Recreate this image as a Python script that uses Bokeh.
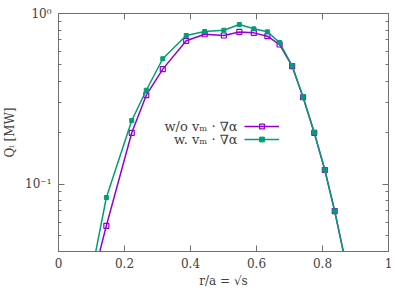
from bokeh.plotting import figure
from bokeh.models import (LinearAxis, LogAxis, FixedTicker, Range1d, Legend, LegendItem, Label,
                          CustomLabelingPolicy)
from bokeh.embed import file_html
from bokeh.resources import INLINE

# data (r/a = sqrt(s))
r_wo = [0.100, 0.145, 0.222, 0.266, 0.316, 0.387, 0.443, 0.501, 0.548, 0.592, 0.633, 0.670, 0.708, 0.741, 0.775, 0.807, 0.837, 0.894]
q_wo = [0.026, 0.057, 0.200, 0.332, 0.472, 0.692, 0.756, 0.743, 0.780, 0.770, 0.736, 0.658, 0.491, 0.323, 0.200, 0.121, 0.0695, 0.021]
r_w = [0.100, 0.145, 0.222, 0.266, 0.316, 0.387, 0.443, 0.501, 0.548, 0.592, 0.633, 0.670, 0.708, 0.741, 0.775, 0.807, 0.837, 0.894]
q_w = [0.030, 0.0835, 0.236, 0.355, 0.543, 0.743, 0.785, 0.798, 0.862, 0.813, 0.781, 0.676, 0.494, 0.325, 0.201, 0.121, 0.0695, 0.021]

x_ticks = [0, 0.2, 0.4, 0.6, 0.8, 1]
x_tick_labels = ["0", "0.2", "0.4", "0.6", "0.8", "1"]
y_ticks = [0.1, 1]
y_tick_labels = ["10⁻¹", "10⁰"]
y_minor = [0.04, 0.05, 0.06, 0.07, 0.08, 0.09, 0.2, 0.3, 0.4, 0.5, 0.6, 0.7, 0.8, 0.9]
legend_labels = ["w/o vₘ · ∇α", "w. vₘ · ∇α"]

PURPLE = "#9400d3"
GREEN = "#009e73"
FRAME = "#707070"
TEXT = "#404040"
FONT = "DejaVu Serif"

p = figure(output_backend="svg", toolbar_location=None, y_axis_type="log",
           frame_width=330, frame_height=238,
           x_range=Range1d(0, 1), y_range=Range1d(0.0403, 1.0),
           min_border_left=54, min_border_right=14, min_border_top=4, min_border_bottom=10,
           x_axis_location=None, y_axis_location=None)
p.grid.visible = False
p.outline_line_color = FRAME
p.outline_line_width = 1
p.background_fill_color = "white"

xt = FixedTicker(ticks=x_ticks, minor_ticks=[])
yt = FixedTicker(ticks=y_ticks, minor_ticks=y_minor)

no_labels = CustomLabelingPolicy(code="return new Set()")

def style(ax, labels=True):
    ax.axis_line_color = FRAME
    ax.major_tick_line_color = FRAME
    ax.minor_tick_line_color = FRAME
    ax.major_tick_in = 6
    ax.major_tick_out = 0
    ax.minor_tick_in = 3
    ax.minor_tick_out = 0
    ax.major_label_text_font = FONT
    ax.major_label_text_font_size = "12px"
    ax.major_label_text_color = TEXT
    ax.axis_label_text_font = FONT
    ax.axis_label_text_font_size = "12px"
    ax.axis_label_text_color = TEXT
    ax.axis_label_text_font_style = "normal"
    if not labels:
        ax.major_label_policy = no_labels
        ax.major_label_standoff = 0

xb = LinearAxis(ticker=xt, axis_label="r/a = √s",
                major_label_overrides={t: l for t, l in zip(x_ticks, x_tick_labels)})
style(xb)
xb.major_label_standoff = 6
xb.axis_label_standoff = 3
p.add_layout(xb, "below")

xa = LinearAxis(ticker=xt)
style(xa, labels=False)
p.add_layout(xa, "above")

yl = LogAxis(ticker=yt, axis_label="Qᵢ [MW]",
             major_label_overrides={t: l for t, l in zip(y_ticks, y_tick_labels)})
style(yl)
yl.major_label_standoff = 7
yl.axis_label_standoff = 5
p.add_layout(yl, "left")

yr = LogAxis(ticker=yt)
style(yr, labels=False)
p.add_layout(yr, "right")

l1 = p.line(r_wo, q_wo, line_color=PURPLE, line_width=1.5)
s1 = p.scatter(r_wo, q_wo, marker="square", size=5, line_color=PURPLE, line_width=1.2, fill_color=None)
l2 = p.line(r_w, q_w, line_color=GREEN, line_width=1.5)
s2 = p.scatter(r_w, q_w, marker="square", size=4, line_color=GREEN, fill_color=GREEN)

legend = Legend(items=[LegendItem(label=" ", renderers=[l1, s1]),
                       LegendItem(label=" ", renderers=[l2, s2])],
                location=(186, 106), orientation="vertical",
                glyph_width=35, glyph_height=12, spacing=1, padding=0, margin=0,
                label_standoff=0, label_width=0, label_height=12,
                label_text_font_size="10px",
                border_line_color=None, background_fill_alpha=0)
p.add_layout(legend, "center")

for i, txt in enumerate(legend_labels):
    p.add_layout(Label(x=179, y=125 - i * 13, x_units="screen", y_units="screen",
                       text=txt, text_align="right", text_baseline="middle",
                       text_font=FONT, text_font_size="13px", text_color=TEXT))

open("out.html", "w").write(file_html(p, INLINE))
